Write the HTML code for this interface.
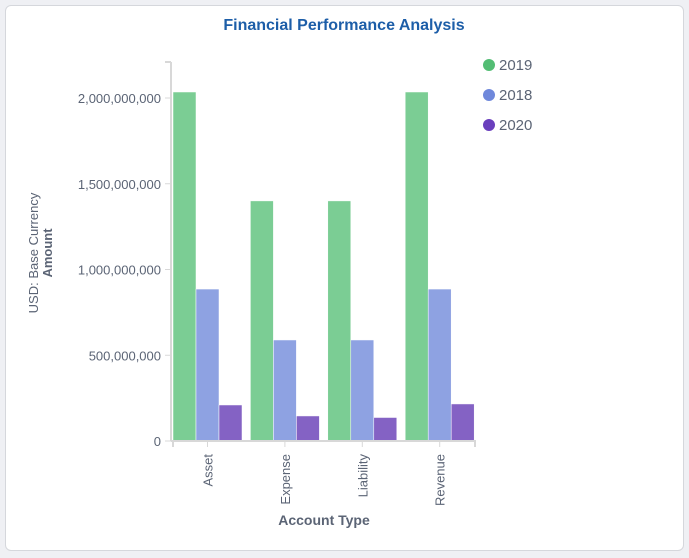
<!DOCTYPE html>
<html><head><meta charset="utf-8"><style>
body{margin:0;background:#eff0f4;width:689px;height:558px;overflow:hidden;font-family:"Liberation Sans",Arial,sans-serif}
.card{position:absolute;left:5px;top:5px;width:677px;height:544px;background:#fff;border:1px solid #d5d7dc;border-radius:6px}
</style></head><body>
<div class="card"></div>
<svg id="chart" width="689" height="558" style="position:absolute;left:0;top:0">
<text x="344" y="30" text-anchor="middle" font-size="16" font-weight="bold" fill="#1d5ea8">Financial Performance Analysis</text>
<g id="yax"></g><g id="bars"></g><g id="xax"></g><g id="legend"></g>
<text transform="translate(38,253) rotate(-90)" text-anchor="middle" font-size="13" fill="#5b6475">USD: Base Currency</text>
<text transform="translate(52,253) rotate(-90)" text-anchor="middle" font-size="13" font-weight="bold" fill="#5b6475">Amount</text>
<text x="324" y="525" text-anchor="middle" font-size="14" font-weight="bold" fill="#5b6475">Account Type</text>
</svg>
<script>
const categories=["Asset","Expense","Liability","Revenue"];
const seriesNames=["2019","2018","2020"];
const v2019=[2035000000,1400000000,1400000000,2035000000];
const v2018=[886000000,589000000,589000000,886000000];
const v2020=[210000000,146000000,137000000,216000000];
const yTicks=[0,500000000,1000000000,1500000000,2000000000];
const yTickLabels=["0","500,000,000","1,000,000,000","1,500,000,000","2,000,000,000"];
const colors=["#7bcd94","#8ea2e2","#8462c4"];
const legendColors=["#53bd74","#6f88db","#6a3fbd"];
const NS="http://www.w3.org/2000/svg";
const y0=441,yPer=343/2000000000,xL=173,xR=475;
const y=v=>y0-v*yPer;
const band=77.4, bw=23;
const bx=i=>xL+i*band;
function mk(t,a,p){const e=document.createElementNS(NS,t);for(const k in a)e.setAttribute(k,a[k]);p.appendChild(e);return e;}
const yax=document.getElementById('yax');
const yl=mk('line',{x1:171,x2:171,y1:62,y2:y0,stroke:'#d8d8d8','stroke-width':2},yax);

mk('line',{x1:165,x2:171,y1:62,y2:62,stroke:'#d8d8d8','stroke-width':2},yax);
yTicks.forEach((t,i)=>{
 mk('line',{x1:165,x2:171,y1:y(t),y2:y(t),stroke:'#d8d8d8','stroke-width':1},yax);
 const tx=mk('text',{x:161,y:y(t)+5,'text-anchor':'end','font-size':13,fill:'#5b6475'},yax);
 tx.textContent=yTickLabels[i];
 
 
});
const bars=document.getElementById('bars');
[v2019,v2018,v2020].forEach((s,si)=>s.forEach((v,i)=>{
 const r=mk('rect',{x:bx(i)+si*bw,y:y(v),width:bw,height:v*yPer,fill:colors[si],stroke:'#fff','stroke-width':0.5},bars);
 
 
}));
const xax=document.getElementById('xax');
const xl=mk('line',{x1:171,x2:xR+1,y1:y0,y2:y0,stroke:'#d8d8d8','stroke-width':2},xax);

mk('line',{x1:173,x2:173,y1:y0,y2:y0+6,stroke:'#d8d8d8','stroke-width':2},xax);
mk('line',{x1:xR,x2:xR,y1:y0,y2:y0+6,stroke:'#d8d8d8','stroke-width':2},xax);
categories.forEach((c,i)=>{
 const cx=bx(i)+1.5*bw;
 mk('line',{x1:cx,x2:cx,y1:y0,y2:y0+6,stroke:'#d8d8d8'},xax);
 const t=mk('text',{transform:`translate(${cx+5},${y0+13}) rotate(-90)`,'text-anchor':'end','font-size':13,fill:'#5b6475'},xax);
 t.textContent=c;
 
 
});
const lg=document.getElementById('legend');
seriesNames.forEach((n,i)=>{
 const g=mk('g',{},lg);
 
 
 mk('circle',{cx:489,cy:65+i*30,r:6,fill:legendColors[i]},g);
 const t=mk('text',{x:499,y:70+i*30,'font-size':15,fill:'#5b6475'},g);t.textContent=n;
});
</script>
</body></html>
